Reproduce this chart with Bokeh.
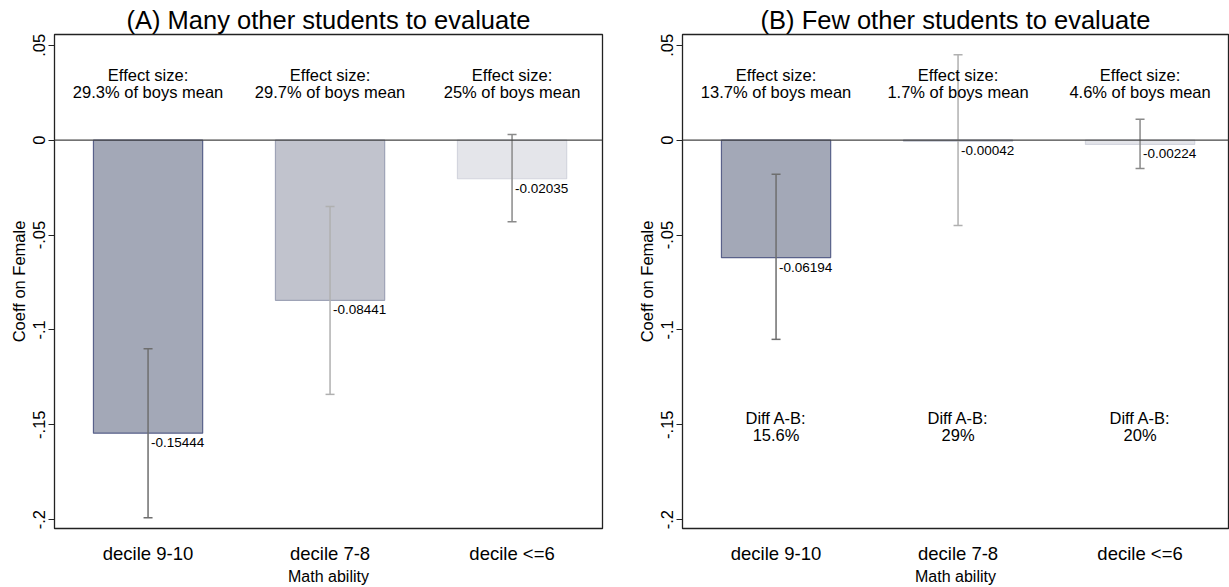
from bokeh.plotting import figure
from bokeh.layouts import row
from bokeh.models import Range1d, FixedTicker, Span
from bokeh.core.properties import value
from bokeh.embed import file_html
from bokeh.resources import INLINE

categories = ["decile 9-10", "decile 7-8", "decile <=6"]
coef_A = [-0.15444, -0.08441, -0.02035]
ci_lo_A = [-0.199, -0.134, -0.043]
ci_hi_A = [-0.110, -0.035, 0.003]
coef_B = [-0.06194, -0.00042, -0.00224]
ci_lo_B = [-0.105, -0.045, -0.015]
ci_hi_B = [-0.018, 0.045, 0.011]
effect_A = ["29.3%", "29.7%", "25%"]
effect_B = ["13.7%", "1.7%", "4.6%"]
diff_AB = ["15.6%", "29%", "20%"]
y_ticks = [-0.2, -0.15, -0.1, -0.05, 0, 0.05]
y_tick_labels = ["-.2", "-.15", "-.1", "-.05", "0", ".05"]

bar_fill = ["#a3a8b7", "#c1c3cd", "#e4e5ea"]
bar_line = ["#59618a", "#9ea3b6", "#d3d5de"]
err_color = ["#6e6e6e", "#b0b0b0", "#8a8a8a"]
FONT = "Liberation Sans"
PX_PER_UNIT = 182.0


def panel(title, coef, lo, hi, effect, width, frame_w, mbr, diff=None):
    xs = list(range(1, len(categories) + 1))
    x0 = 0.486
    p = figure(width=width, height=587, output_backend="svg", toolbar_location=None,
               x_range=Range1d(x0, x0 + frame_w / PX_PER_UNIT),
               y_range=Range1d(-0.2047, 0.0557),
               min_border_left=54, min_border_right=mbr,
               min_border_top=34, min_border_bottom=53, title=title)
    p.title.align = "center"
    p.title.text_font = FONT
    p.title.text_font_size = "25.5px"
    p.title.text_font_style = "normal"
    p.title.text_color = "black"
    p.title.standoff = 1

    p.grid.visible = False
    p.outline_line_color = "#222222"
    p.outline_line_width = 1.3
    p.background_fill_color = "white"
    p.border_fill_color = "white"

    p.vbar(x=xs, top=0, bottom=coef, width=0.6, fill_color=bar_fill,
           line_color=bar_line, line_width=1.2)
    p.add_layout(Span(location=0, dimension="width", line_color="#444444", line_width=1.3))

    p.segment(x0=xs, y0=lo, x1=xs, y1=hi, line_color=err_color, line_width=1.5)
    p.scatter(x=xs + xs, y=lo + hi, marker="dash", size=9,
              line_color=err_color + err_color, line_width=1.5)

    p.text(x=xs, y=coef, text=["%.5f" % c for c in coef], text_font=value(FONT),
           text_font_size="13.5px", text_align="left", text_baseline="top",
           x_offset=3, y_offset=5, text_color="black")

    p.text(x=xs, y=[0.0345] * 3, text=["Effect size:"] * 3, text_font=value(FONT),
           text_font_size="16.5px", text_align="center", text_baseline="middle",
           text_color="black")
    p.text(x=xs, y=[0.0255] * 3, text=[e + " of boys mean" for e in effect],
           text_font=value(FONT), text_font_size="16.5px", text_align="center",
           text_baseline="middle", text_color="black")
    if diff is not None:
        p.text(x=xs, y=[-0.1464] * 3, text=["Diff A-B:"] * 3, text_font=value(FONT),
               text_font_size="16.5px", text_align="center", text_baseline="middle",
               text_color="black")
        p.text(x=xs, y=[-0.1552] * 3, text=diff, text_font=value(FONT),
               text_font_size="16.5px", text_align="center", text_baseline="middle",
               text_color="black")

    ya = p.yaxis[0]
    ya.ticker = FixedTicker(ticks=y_ticks)
    ya.major_label_overrides = dict(zip(y_ticks, y_tick_labels))
    ya.major_label_orientation = "vertical"
    ya.major_label_text_font = FONT
    ya.major_label_text_font_size = "16.5px"
    ya.major_label_text_color = "black"
    ya.minor_tick_line_color = None
    ya.major_tick_out = 6
    ya.major_tick_in = 0
    ya.major_tick_line_color = "#222222"
    ya.axis_line_color = "#222222"
    ya.axis_label = "Coeff on Female"
    ya.axis_label_text_font = FONT
    ya.axis_label_text_font_size = "16.5px"
    ya.axis_label_text_font_style = "normal"
    ya.axis_label_text_color = "black"
    ya.axis_label_standoff = 3
    ya.major_label_standoff = 3

    xa = p.xaxis[0]
    xa.ticker = FixedTicker(ticks=xs)
    xa.major_label_overrides = {i: c for i, c in zip(xs, categories)}
    xa.major_label_text_font = FONT
    xa.major_label_text_font_size = "18.5px"
    xa.major_label_text_color = "black"
    xa.major_tick_line_color = None
    xa.minor_tick_line_color = None
    xa.axis_line_color = "#222222"
    xa.major_label_standoff = 8
    xa.axis_label = "Math ability"
    xa.axis_label_text_font = FONT
    xa.axis_label_text_font_size = "16px"
    xa.axis_label_text_font_style = "normal"
    xa.axis_label_text_color = "black"
    xa.axis_label_standoff = 1
    return p


pA = panel("(A) Many other students to evaluate", coef_A, ci_lo_A, ci_hi_A, effect_A,
           width=628, frame_w=548, mbr=26)
pB = panel("(B) Few other students to evaluate", coef_B, ci_lo_B, ci_hi_B, effect_B,
           width=601, frame_w=546, mbr=1, diff=diff_AB)

layout = row(pA, pB)
open("out.html", "w").write(file_html(layout, INLINE))
